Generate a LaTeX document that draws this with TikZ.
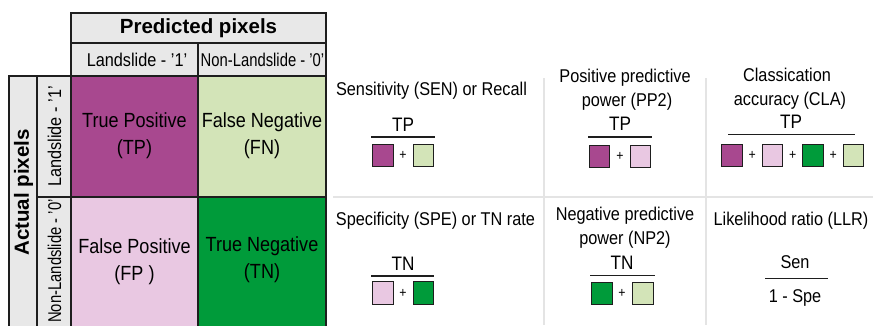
\documentclass[tikz,border=0pt]{standalone}
\usepackage{fontspec}
\usepackage{graphicx}
\setmainfont{Liberation Sans}[FakeStretch=0.88]
\newfontfamily\headfont{Liberation Sans}
\definecolor{tpc}{HTML}{A8488F}
\definecolor{fnc}{HTML}{D3E4B8}
\definecolor{fpc}{HTML}{E9C8E2}
\definecolor{tnc}{HTML}{009B3A}
\definecolor{hdc}{HTML}{E8E8E8}
\definecolor{sepc}{HTML}{E4E4E4}
\definecolor{linec}{HTML}{1E1E1E}
\tikzset{
  grid/.style={draw=linec, line width=1.5pt},
  celltext/.style={font=\fontsize{20.5}{24}\selectfont, inner sep=0pt, anchor=base},
  headtext/.style={font=\headfont\bfseries\fontsize{20.5}{24}\selectfont, inner sep=0pt},
  labtext/.style={font=\fontsize{18.5}{22}\selectfont, inner sep=0pt},
  metric/.style={font=\fontsize{18.5}{22}\selectfont, inner sep=0pt, anchor=base},
  term/.style={font=\fontsize{19.5}{22}\selectfont, inner sep=0pt, anchor=base},
  chip/.style={draw=linec, line width=1.3pt, minimum width=20.5pt, minimum height=22.5pt, inner sep=0pt},
  plus/.style={font=\fontsize{14}{14}\selectfont, inner sep=0pt},
  bar/.style={draw=linec, line width=1.3pt},
  sep/.style={draw=sepc, line width=1.6pt}
}
\begin{document}
\begin{tikzpicture}[x=1pt, y=-1pt]
\useasboundingbox (0,0) rectangle (873,325);
\clip (0,0) rectangle (873,325);

% ---------- confusion matrix ----------
\filldraw[grid, fill=hdc] (71,13) rectangle (326,43);
\filldraw[grid, fill=hdc] (71,43) rectangle (198,76);
\filldraw[grid, fill=hdc] (198,43) rectangle (326,76);
\filldraw[grid, fill=hdc] (9,76) rectangle (37,340);
\filldraw[grid, fill=hdc] (37,76) rectangle (71,197);
\filldraw[grid, fill=hdc] (37,197) rectangle (71,340);
\filldraw[grid, fill=tpc] (71,76) rectangle (198,197);
\filldraw[grid, fill=fnc] (198,76) rectangle (326,197);
\filldraw[grid, fill=fpc] (71,197) rectangle (198,340);
\filldraw[grid, fill=tnc] (198,197) rectangle (326,340);

\node[headtext] (pred) at (198.5,28.5) {Predicted pixels};
\node[labtext] (pl1) at (137,60) {Landslide - '1'};
\node[labtext] (pl0) at (262.5,60) {\scalebox{0.91}[1]{Non-Landslide - '0'}};
\node[headtext, rotate=90] (act) at (23.5,192.5) {Actual pixels};
\node[labtext, rotate=90] (al1) at (54.5,136.5) {Landslide - '1'};
\node[labtext, rotate=90] (al0) at (54.5,261) {\scalebox{0.91}[1]{Non-Landslide - '0'}};

\node[celltext] (tp1) at (134.5,127) {True Positive};
\node[celltext] (tp2) at (134.5,154) {(TP)};
\node[celltext] (fn1) at (262,127) {False Negative};
\node[celltext] (fn2) at (262,154) {(FN)};
\node[celltext] (fp1) at (134.5,253) {False Positive};
\node[celltext] (fp2) at (134.5,280) {(FP )};
\node[celltext] (tn1) at (262,251) {True Negative};
\node[celltext] (tn2) at (262,278) {(TN)};

% ---------- separators of the measures ----------
\draw[sep] (333,197) -- (873,197);
\draw[sep] (544,78) -- (544,325);
\draw[sep] (706,78) -- (706,325);

% ---------- sensitivity ----------
\node[metric] (sen) at (431.5,95) {Sensitivity (SEN) or Recall};
\node[term] (senn) at (403,131.5) {TP};
\draw[bar] (371,137) -- (435,137);
\node[chip, fill=tpc] (sena) at (383,155.5) {};
\node[plus] (senp) at (403,155.5) {+};
\node[chip, fill=fnc] (senb) at (423.5,155.5) {};

% ---------- positive predictive power ----------
\node[metric] (ppa) at (625,82) {Positive predictive};
\node[metric] (ppb) at (627,106) {power (PP2)};
\node[term] (ppn) at (620,130) {TP};
\draw[bar] (588,137) -- (652,137);
\node[chip, fill=tpc] (ppx) at (599.5,156.5) {};
\node[plus] (ppp) at (620,156.5) {+};
\node[chip, fill=fpc] (ppy) at (640.5,156.5) {};

% ---------- classification accuracy ----------
\node[metric] (cla) at (787,81) {Classication};
\node[metric] (clb) at (790,105) {accuracy (CLA)};
\node[term] (cln) at (791,128.5) {TP};
\draw[bar] (728,134.5) -- (855,134.5);
\node[chip, fill=tpc] (clw) at (732,155.5) {};
\node[plus] (clp1) at (752.25,155.5) {+};
\node[chip, fill=fpc] (clx) at (772.5,155.5) {};
\node[plus] (clp2) at (792.75,155.5) {+};
\node[chip, fill=tnc] (cly) at (813,155.5) {};
\node[plus] (clp3) at (833.25,155.5) {+};
\node[chip, fill=fnc] (clz) at (853.5,155.5) {};

% ---------- specificity ----------
\node[metric] (spe) at (435.5,225) {Specificity (SPE) or TN rate};
\node[term] (spen) at (403,270) {TN};
\draw[bar] (371,276) -- (434,276);
\node[chip, fill=fpc] (spea) at (383,293) {};
\node[plus] (spep) at (403,293) {+};
\node[chip, fill=tnc] (speb) at (423.5,293) {};

% ---------- negative predictive power ----------
\node[metric] (npa) at (625,220) {Negative predictive};
\node[metric] (npb) at (625,244) {power (NP2)};
\node[term] (npn) at (622,269) {TN};
\draw[bar] (590,275.5) -- (655,275.5);
\node[chip, fill=tnc] (npx) at (602,293.5) {};
\node[plus] (npp) at (622,293.5) {+};
\node[chip, fill=fnc] (npy) at (643,293.5) {};

% ---------- likelihood ratio ----------
\node[metric] (llr) at (791,225) {Likelihood ratio (LLR)};
\node[metric] (llrn) at (795,268) {Sen};
\draw[bar] (765,278.5) -- (828,278.5);
\node[metric] (llrd) at (795,302) {1 - Spe};
\end{tikzpicture}
\end{document}
